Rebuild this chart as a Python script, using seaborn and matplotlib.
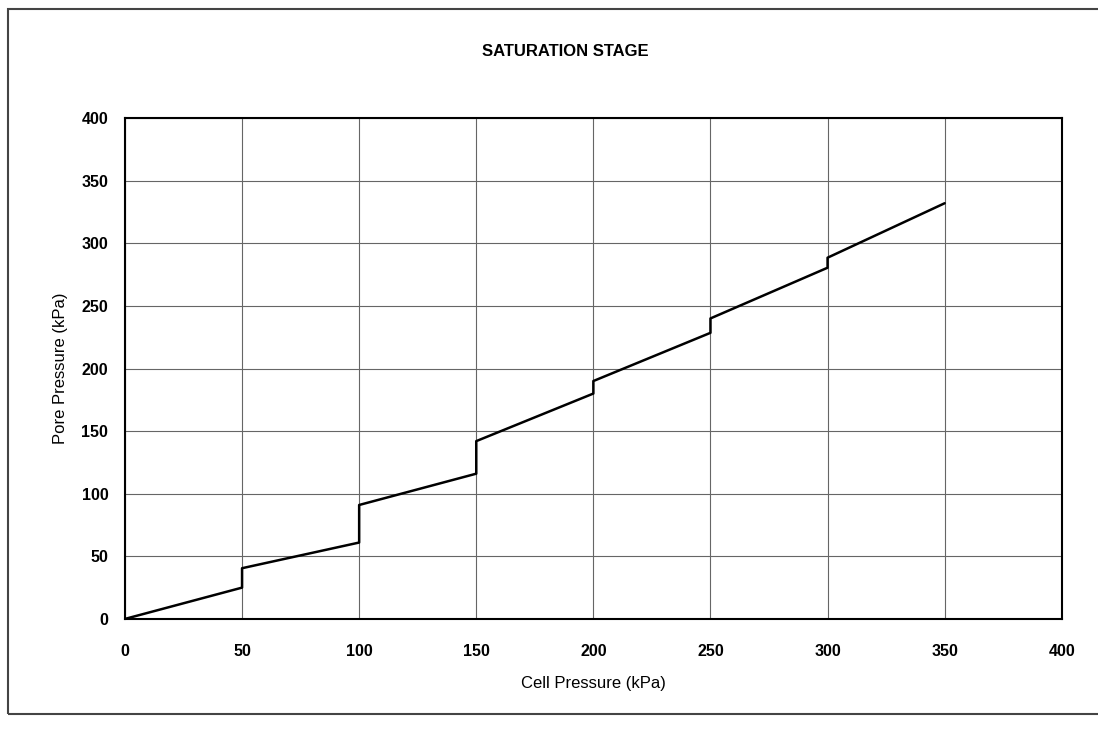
import matplotlib
matplotlib.use("Agg")
import matplotlib.pyplot as plt
import seaborn as sns
import pandas as pd
from matplotlib.patches import Rectangle

cell_pressure = [0, 50, 50, 100, 100, 150, 150, 200, 200, 250, 250, 300, 300, 350]
pore_pressure = [0, 25, 40.5, 61, 91, 116, 142, 180, 190, 228.5, 240, 280.5, 288.5, 332]
ticks = [0, 50, 100, 150, 200, 250, 300, 350, 400]

sns.set_theme(style="white", rc={"text.color": "black", "axes.labelcolor": "black",
                                 "xtick.color": "black", "ytick.color": "black"})
plt.rcParams['font.family'] = ['Liberation Sans', 'DejaVu Sans']

df = pd.DataFrame({"cell": cell_pressure, "pore": pore_pressure})

fig = plt.figure(figsize=(10.98, 7.29), dpi=100)
ax = fig.add_axes([0.1138, 0.151, 0.8532, 0.687])

sns.lineplot(data=df, x="cell", y="pore", ax=ax, color="black", linewidth=1.8,
             sort=False, estimator=None)

ax.set_xlim(0, 400)
ax.set_ylim(0, 400)
ax.set_xticks(ticks)
ax.set_yticks(ticks)
ax.set_xticklabels([str(t) for t in ticks], fontweight="bold", fontsize=11.5)
ax.set_yticklabels([str(t) for t in ticks], fontweight="bold", fontsize=11.5)
ax.tick_params(axis="x", length=0, pad=18)
ax.tick_params(axis="y", length=0, pad=12)
ax.grid(True, color="#666666", linewidth=0.8)
for s in ax.spines.values():
    s.set_visible(True)
    s.set_color("black")
    s.set_linewidth(1.5)

ax.set_xlabel("Cell Pressure (kPa)", fontsize=12, labelpad=12)
ax.set_ylabel("Pore Pressure (kPa)", fontsize=12, labelpad=10)
fig.text(0.515, 0.93, "SATURATION STAGE", ha="center", va="center",
         fontsize=12, fontweight="bold")

fig.patches.append(Rectangle((0.007, 0.02), 1.1, 0.967, transform=fig.transFigure,
                             fill=False, edgecolor="#444444", linewidth=1.5))

fig.savefig("out.png", dpi=100)
